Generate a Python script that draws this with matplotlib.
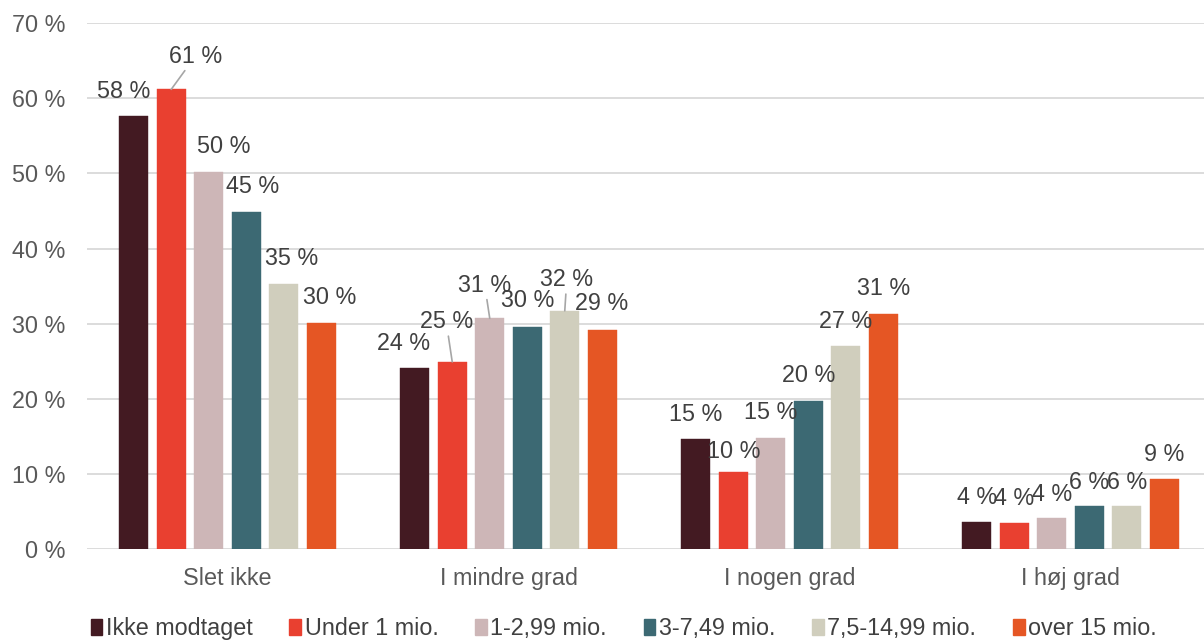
import matplotlib
matplotlib.use("Agg")
import matplotlib.pyplot as plt
from matplotlib.patches import Patch
import numpy as np

plt.rcParams['font.family'] = ['Liberation Sans', 'DejaVu Sans']

categories = ["Slet ikke", "I mindre grad", "I nogen grad", "I høj grad"]
series_names = ["Ikke modtaget", "Under 1 mio.", "1-2,99 mio.", "3-7,49 mio.", "7,5-14,99 mio.", "over 15 mio."]
ikke_modtaget = [57.6, 24.1, 14.6, 3.6]
under_1 = [61.2, 24.9, 10.2, 3.5]
mio_1_299 = [50.2, 30.7, 14.8, 4.1]
mio_3_749 = [44.9, 29.6, 19.7, 5.7]
mio_75_1499 = [35.3, 31.7, 27.0, 5.7]
over_15 = [30.1, 29.2, 31.3, 9.3]
series_values = [ikke_modtaget, under_1, mio_1_299, mio_3_749, mio_75_1499, over_15]
y_ticks = [0, 10, 20, 30, 40, 50, 60, 70]
y_tick_labels = [f"{t} %" for t in y_ticks]

colors = ["#431A22", "#E94030", "#CDB6B7", "#3C6973", "#D0CEBD", "#E55624"]

# label offsets (pixels): (dx, dy) relative to top of bar, and leader-line flag
label_offsets = [
    [(-10, 25, False), (-11, 24, False), (0, 25, False), (0, 24, False)],
    [(24, 33, True), (-6, 40, True), (1, 21, False), (0, 24, False)],
    [(15, 25, False), (-5, 33, True), (0, 25, False), (0, 24, False)],
    [(6, 25, False), (0, 26, False), (0, 25, False), (0, 24, False)],
    [(8, 25, False), (2, 31, True), (0, 25, False), (0, 24, False)],
    [(8, 25, False), (-1, 26, False), (0, 25, False), (0, 24, False)],
]

W, H = 1204, 642
fig = plt.figure(figsize=(W / 100, H / 100), dpi=100)
ax_left, ax_right = 87, 1204
ax_bottom, ax_top = 548.8, 23.3
ax = fig.add_axes([ax_left / W, (H - ax_bottom) / H, (ax_right - ax_left) / W, (ax_bottom - ax_top) / H])

group_px = 281.0
x = np.arange(len(categories))
step = 0.1335
width = 0.104
fs = 16.8
for i, (vals, col) in enumerate(zip(series_values, colors)):
    xs = x + (i - 2.5) * step
    ax.bar(xs, vals, width=width, color=col, edgecolor=col, linewidth=0.3, zorder=3)
    for j, (xx, v) in enumerate(zip(xs, vals)):
        dx, dy, leader = label_offsets[i][j]
        kw = {}
        if leader:
            kw['arrowprops'] = dict(arrowstyle='-', color='#A6A6A6', lw=1.2,
                                    shrinkA=0, shrinkB=0)
        ax.annotate(f"{int(v + 0.5)} %", xy=(xx, v), xytext=(dx, dy),
                    textcoords='offset pixels', ha='center', va='center',
                    fontsize=fs, color='#404040', zorder=5, **kw)

ax.set_xlim(-0.5, -0.5 + (ax_right - ax_left) / group_px)
ax.set_ylim(0, 70)
ax.set_yticks(y_ticks)
ax.set_yticklabels(y_tick_labels)
ax.set_xticks(x)
ax.set_xticklabels(categories)
ax.tick_params(axis='y', length=0, pad=15.5, labelsize=fs, labelcolor='#595959')
ax.tick_params(axis='x', length=0, pad=13, labelsize=fs, labelcolor='#595959')
ax.grid(axis='y', color='#D9D9D9', linewidth=1.3, zorder=0)
ax.set_axisbelow(True)
for s in ax.spines.values():
    s.set_visible(False)

handles = [Patch(facecolor=c, edgecolor=c) for c in colors]
fig.legend(handles, series_names, loc='center', bbox_to_anchor=(0.518, 0.021),
           ncol=6, frameon=False, fontsize=fs, labelcolor='#404040',
           handlelength=0.5, handleheight=0.65, handletextpad=0.15,
           columnspacing=1.58, borderpad=0, borderaxespad=0)

fig.savefig("out.png", dpi=100)
